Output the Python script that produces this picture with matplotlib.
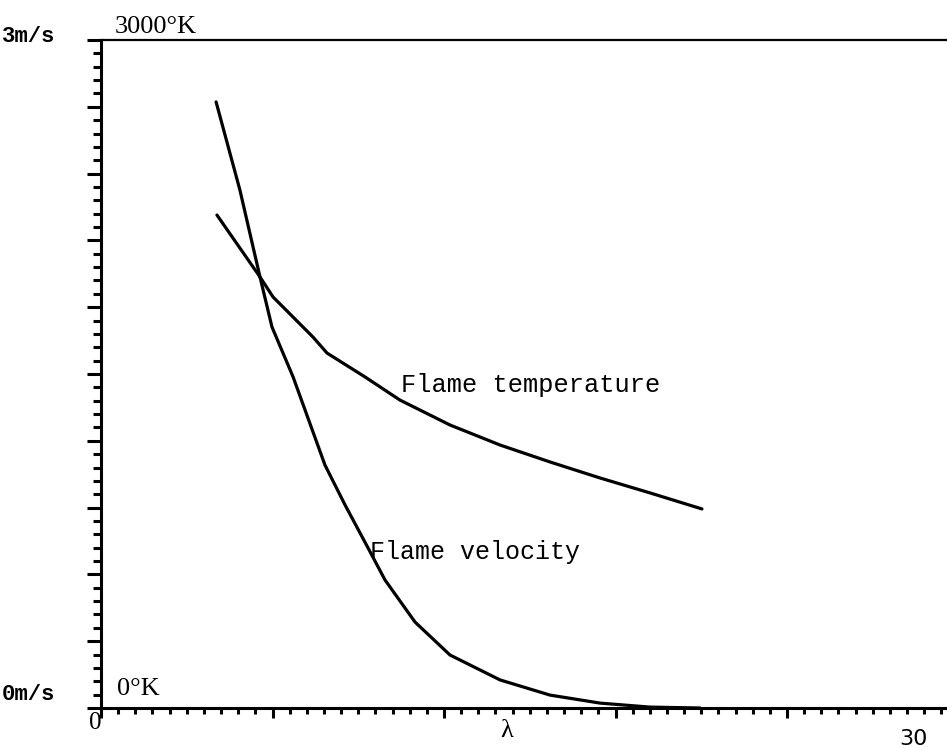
import numpy as np
import matplotlib
matplotlib.use('Agg')
import matplotlib.pyplot as plt
from matplotlib.ticker import MultipleLocator

# x in minor-tick units of the original grid, y on the 0..3000 K scale
# (velocity drawn on the same scale: 3000 == 3 m/s)
vel_x = [6.71, 8.10, 9.27, 9.97, 11.20, 13.06, 14.23, 15.57, 16.56, 18.31,
         20.35, 23.27, 26.18, 29.10, 32.01, 34.93]
vel_y = [2722, 2326, 1936, 1711, 1487, 1091, 912, 719, 575, 386,
         238, 126, 58, 22, 4, 0]

temp_x = [6.76, 9.27, 10.03, 12.36, 13.18, 15.39, 17.43, 20.35, 23.27,
          26.18, 29.10, 32.01, 35.04]
temp_y = [2214, 1936, 1846, 1666, 1594, 1487, 1383, 1271, 1181,
          1105, 1033, 966, 894]

fig = plt.figure(figsize=(9.47, 7.48), dpi=100)
ax = fig.add_axes([101/947, 40/748, 1 - 101/947, 668/748])

ax.plot(vel_x, vel_y, color='black', lw=2.3, solid_capstyle='round')
ax.plot(temp_x, temp_y, color='black', lw=2.3, solid_capstyle='round')

ax.set_xlim(0, 846/17.15)
ax.set_ylim(0, 3000)

ax.spines['right'].set_visible(False)
for s in ['left', 'bottom']:
    ax.spines[s].set_linewidth(2.2)
ax.spines['top'].set_linewidth(1.6)

ax.xaxis.set_major_locator(MultipleLocator(10))
ax.xaxis.set_minor_locator(MultipleLocator(1))
ax.yaxis.set_major_locator(MultipleLocator(300))
ax.yaxis.set_minor_locator(MultipleLocator(60))
ax.tick_params(axis='both', which='both', direction='out', width=2.2,
               labelbottom=False, labelleft=False)
ax.tick_params(axis='y', which='major', length=10)
ax.tick_params(axis='y', which='minor', length=6)
ax.tick_params(axis='x', which='major', length=7)
ax.tick_params(axis='x', which='minor', length=4)

mono = 'Liberation Mono'
serif = 'Liberation Serif'

# axis annotations, placed in figure pixels like the original sheet
def ftext(x, y, s, **kw):
    fig.text(x / 947, 1 - y / 748, s, **kw)

ftext(2, 36, '3m/s', family=mono, weight='bold', fontsize=16, va='center', ha='left')
ftext(2, 694, '0m/s', family=mono, weight='bold', fontsize=16, va='center', ha='left')
ftext(115, 27, '3000\u00b0K', family=serif, fontsize=19, va='center', ha='left')
ftext(117, 689, '0\u00b0K', family=serif, fontsize=19, va='center', ha='left')
ftext(95, 723, '0', family=serif, fontsize=18, va='center', ha='center')
ftext(507, 731, '\u03bb', family=serif, fontsize=19, va='center', ha='center')
ftext(913, 739, '30', family='DejaVu Sans', fontsize=16, va='center', ha='center')

ax.text(17.5, 1450, 'Flame temperature', family=mono, fontsize=18.3, va='center', ha='left')
ax.text(15.7, 700, 'Flame velocity', family=mono, fontsize=18, va='center', ha='left')

fig.savefig('out.png', dpi=100)
